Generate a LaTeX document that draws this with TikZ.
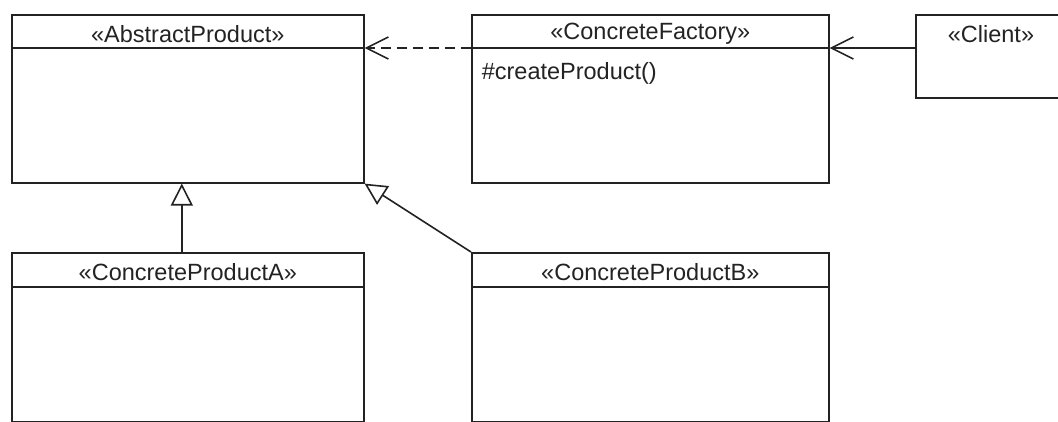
\documentclass[tikz,border=0pt]{standalone}
\usepackage{fontspec}
\setmainfont{Liberation Sans}
\usetikzlibrary{calc, positioning, arrows.meta}
\definecolor{UmlInk}{RGB}{35, 35, 35}

\begin{document}
\begin{tikzpicture}[x=1pt, y=-1pt, line width=1.6pt, UmlInk,
    umlclass/.style={draw, rectangle, inner sep=0pt, anchor=north west, minimum width=#1},
    umlclass/.default=352pt,
    umltitle/.style={font=\fontsize{23.5}{27}\selectfont, inner sep=0pt},
    umlop/.style={font=\fontsize{23.5}{27}\selectfont, inner sep=0pt, anchor=west},
    gen/.style={-{Triangle[open, length=22pt, width=22pt, fill=white]}},
    dep/.style={dash pattern=on 10pt off 6pt, -{Straight Barb[length=22pt, width=22pt]}},
    assoc/.style={-{Straight Barb[length=22pt, width=22pt]}}]
    \clip (0,0) rectangle (1058,422);
    \fill[white] (0,0) rectangle (1058,422);

    % clases
    \node[umlclass, minimum height=168pt] (ap) at (11,14) {};
    \node[umlclass=357pt, minimum height=168pt] (fac) at (471,14) {};
    \node[umlclass=170pt, minimum height=83pt] (cl) at (915,14) {};
    \node[umlclass, minimum height=169pt] (pa) at (11,252) {};
    \node[umlclass=357pt, minimum height=169pt] (pb) at (471,252) {};

    % cabeceras
    \draw (ap.north west) ++(0,34) coordinate (ap-hw) -- (ap-hw -| ap.east) coordinate (ap-he);
    \draw (fac.north west) ++(0,34) coordinate (fac-hw) -- (fac-hw -| fac.east) coordinate (fac-he);
    \draw (pa.north west) ++(0,35) coordinate (pa-hw) -- (pa-hw -| pa.east);
    \draw (pb.north west) ++(0,35) coordinate (pb-hw) -- (pb-hw -| pb.east);

    \node[umltitle] (ap-t) at ($(ap.north)+(0,20)$) {«AbstractProduct»};
    \node[umltitle] (fac-t) at ($(fac.north)+(0,20)$) {«ConcreteFactory»};
    \node[umltitle] (cl-t) at ($(cl.north west)+(76,20)$) {«Client»};
    \node[umltitle] (pa-t) at ($(pa.north)+(0,20)$) {«ConcreteProductA»};
    \node[umltitle] (pb-t) at ($(pb.north)+(0,20)$) {«ConcreteProductB»};
    \node[umlop] (fac-op) at ($(fac-hw)+(10,25)$) {\#createProduct()};

    % relaciones
    \draw[dep] (fac-hw) -- (ap-he);
    \draw[assoc] (cl.west |- fac-he) -- (fac-he);
    \draw[gen] ([xshift=-6pt]pa.north) -- ([xshift=-6pt]ap.south);
    \draw[gen] (pb.north west) -- (ap.south east);
\end{tikzpicture}
\end{document}
